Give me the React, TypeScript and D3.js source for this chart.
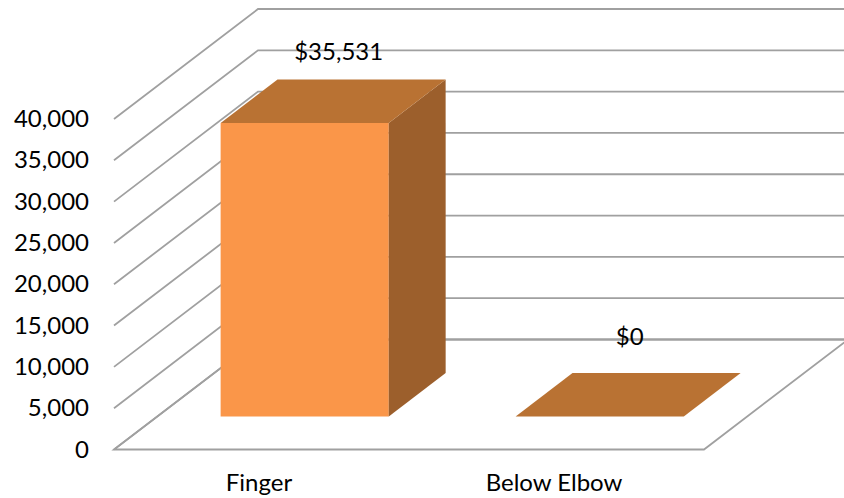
import React from "react";
import * as d3 from "d3";

const categories = ["Finger", "Below Elbow"];
const values = [35531, 0];
const valueLabels = ["$35,531", "$0"];
const yTicks = [0, 5000, 10000, 15000, 20000, 25000, 30000, 35000, 40000];

const W = 844, H = 498;
const FONT = "Lato, 'Open Sans', sans-serif";
const GRID = "#a0a0a0";
const FS = 24;

const y = d3.scaleLinear().domain([0, 40000]).range([449.5, 119]);
const x = d3.scaleBand<string>().domain(categories).range([114, 704]).paddingInner(0.43).paddingOuter(0.215);

// oblique depth of the floor / walls
const depthX = 144, depthY = -110;
const barNear = 0.3, barFar = 0.695;
const pt = (px: number, py: number, d: number): [number, number] => [px + depthX * d, py + depthY * d];
const line = d3.line();
const poly = (pts: [number, number][]) => line(pts) + "Z";

const labelDx = [34, 30];
const labelDy = [-19, -28];

export default function App() {
  const fmt = d3.format(",");
  const backRight = 858;
  return (
    <svg width={W} height={H} viewBox={`0 0 ${W} ${H}`} style={{ position: "absolute", left: 0, top: 0, background: "#fff" }} fontFamily={FONT}>
      {yTicks.map((t) => (
        <path key={t} d={line([[114, y(t)], pt(114, y(t), 1), [backRight, y(t) + depthY]]) as string} fill="none" stroke={GRID} strokeWidth={1.8} />
      ))}
      <path d={poly([[114, y(0)], [704, y(0)], pt(704, y(0), 1), pt(114, y(0), 1)])} fill="none" stroke={GRID} strokeWidth={1.8} />
      {categories.map((c, i) => {
        const x0 = x(c)!, x1 = x0 + x.bandwidth();
        const yb = y(0), yt = y(values[i]);
        const a = pt(x0, yt, barNear), b = pt(x1, yt, barNear), cc = pt(x1, yt, barFar), d = pt(x0, yt, barFar);
        const e = pt(x1, yb, barNear), f = pt(x1, yb, barFar);
        const fl = pt(x0, yb, barNear);
        return (
          <g key={c}>
            {values[i] > 0 && <path d={poly([fl, e, b, a])} fill="#fa9649" />}
            {values[i] > 0 && <path d={poly([e, f, cc, b])} fill="#9c5f2c" />}
            <path d={poly([a, b, cc, d])} fill="#b97233" />
          </g>
        );
      })}
      {categories.map((c, i) => {
        const cx = x(c)! + x.bandwidth() / 2;
        const [lx, ly] = pt(cx, y(values[i]), barFar);
        return (
          <text key={c} x={lx - depthX * 0.395 + labelDx[i]} y={ly + labelDy[i]} textAnchor="middle" fontSize={FS} fill="#000">
            {valueLabels[i]}
          </text>
        );
      })}
      {yTicks.map((t) => (
        <text key={t} x={89} y={y(t) + 8} textAnchor="end" fontSize={FS} fill="#000">{fmt(t)}</text>
      ))}
      {categories.map((c) => (
        <text key={c} x={x(c)! + x.bandwidth() / 2 - 2.5} y={491} textAnchor="middle" fontSize={FS} fill="#000">{c}</text>
      ))}
    </svg>
  );
}
